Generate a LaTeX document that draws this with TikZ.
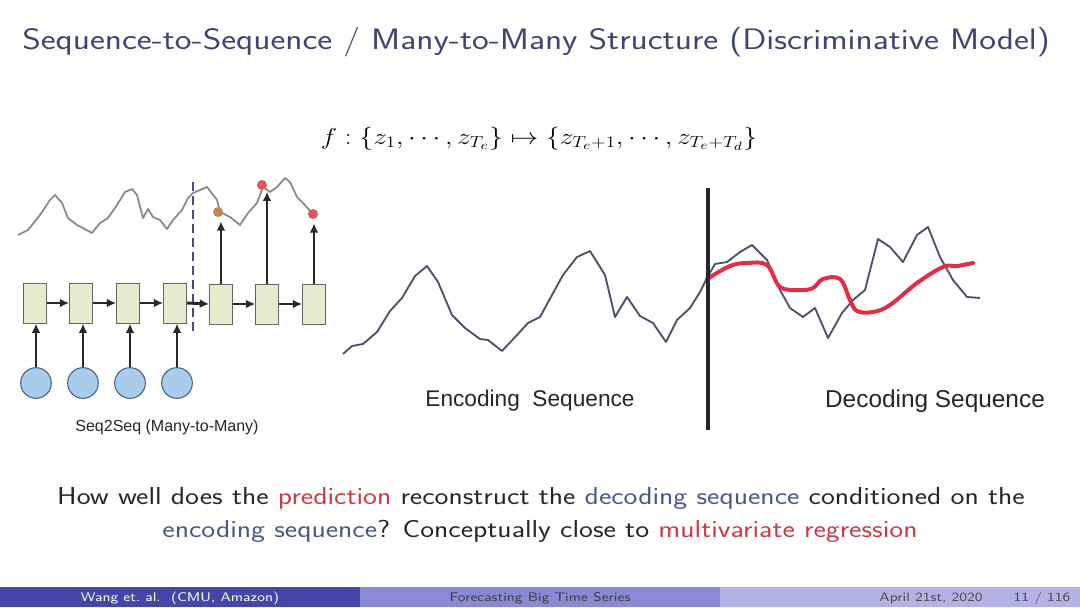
\documentclass[tikz,border=0pt]{standalone}
\usepackage{fontspec}
\usepackage{graphicx}
\newfontfamily\arialf{Liberation Sans}
\usetikzlibrary{arrows.meta}
\newcommand{\xs}[1]{\scalebox{1.2}[1]{#1}}
\definecolor{titlec}{RGB}{62,70,112}
\definecolor{slateb}{RGB}{72,88,135}
\definecolor{redt}{RGB}{200,60,70}
\definecolor{boxfill}{RGB}{230,236,208}
\definecolor{boxdraw}{RGB}{100,100,100}
\definecolor{circfill}{RGB}{168,204,234}
\definecolor{circdraw}{RGB}{60,90,130}
\definecolor{seriesc}{RGB}{75,82,110}
\definecolor{topseries}{RGB}{135,135,140}
\definecolor{predc}{RGB}{225,45,70}
\definecolor{footA}{RGB}{70,70,168}
\definecolor{footB}{RGB}{138,138,212}
\definecolor{footC}{RGB}{178,178,228}
\definecolor{dotorange}{RGB}{196,132,80}
\definecolor{dotred}{RGB}{226,86,86}
\definecolor{arrowc}{RGB}{40,40,40}
\tikzset{
  rnnbox/.style={draw=boxdraw, fill=boxfill, line width=0.75pt, minimum width=17pt, minimum height=30pt, inner sep=0pt},
  inbox/.style={circle, draw=circdraw, fill=circfill, line width=0.75pt, minimum size=23pt, inner sep=0pt},
  outdot/.style={circle, minimum size=7.5pt, inner sep=0pt},
  flow/.style={draw=arrowc, line width=2.2pt, -{Latex[length=7pt,width=6.5pt]}},
  serie/.style={seriesc, line width=1.4pt, line join=round},
  figlabel/.style={inner sep=0pt, font=\arialf\fontsize{17}{20}\selectfont, text=black!85},
  foottext/.style={inner sep=0pt, font=\sffamily\fontsize{9.4}{11}\selectfont},
}
\begin{document}
\begin{tikzpicture}[x=0.75pt,y=-0.75pt]
\useasboundingbox (0,0) rectangle (1080,607);
\fill[white] (0,0) rectangle (1080,607);

% title
\node[anchor=base west, inner sep=0pt, text=titlec] (title) at (22,49)
  {\xs{\fontsize{22.2}{26}\selectfont\sffamily Sequence-to-Sequence / Many-to-Many Structure (Discriminative Model)}};

% formula
\node[anchor=base, inner sep=0pt] (formula) at (539,144)
  {\xs{\fontsize{18.3}{22}\selectfont $f:\{z_1,\cdots,z_{T_e}\}\mapsto\{z_{T_e+1},\cdots,z_{T_e+T_d}\}$}};

% ---------- left figure ----------
\draw[topseries, line width=1.3pt, line join=round] plot coordinates {
 (18,235) (28,230) (40,215) (50,200) (55,195) (62,203) (68,218) (77,225) (83,228) (92,233)
 (100,223) (108,218) (117,205) (125,192) (132,189) (137,195) (143,218) (148,209) (153,217)
 (160,220) (167,229) (173,220) (182,210) (188,198) (193,193) (200,190) (207,187) (217,200)
 (220,212) (230,217) (240,225) (248,213) (257,203) (263,187) (270,192) (277,187) (285,178)
 (290,182) (297,197) (303,203) (312,213)};

\coordinate (dtop) at (193,182);
\coordinate (dbot) at (193,336);
\draw[slateb!90!black, line width=1.8pt, dash pattern=on 7pt off 3.5pt] (dtop) -- (dbot);

\node[rnnbox] (b1) at (35,303) {};
\node[rnnbox] (b2) at (81,303) {};
\node[rnnbox] (b3) at (128,303) {};
\node[rnnbox] (b4) at (175,303) {};
\node[rnnbox] (b5) at (221,304) {};
\node[rnnbox] (b6) at (267,304) {};
\node[rnnbox] (b7) at (314,304) {};

\node[inbox] (c1) at (36,383) {};
\node[inbox] (c2) at (83,383) {};
\node[inbox] (c3) at (130,383) {};
\node[inbox] (c4) at (177,383) {};

\node[outdot, fill=dotorange] (d5) at (218,212) {};
\node[outdot, fill=dotred] (d6) at (262,185) {};
\node[outdot, fill=dotred] (d7) at (313,214) {};

\foreach \i in {1,2,3,4} { \draw[flow] (c\i.north) -- (c\i.north |- b\i.south); }
\foreach \i/\j in {1/2,2/3,3/4,4/5,5/6,6/7} { \draw[flow] (b\i.east) -- (b\j.west); }
\draw[flow, shorten >=3pt] (b5.north) -- (b5.north |- d5.south);
\draw[flow, shorten >=1pt] (b6.north) -- (b6.north |- d6.south);
\draw[flow, shorten >=3pt] (b7.north) -- (b7.north |- d7.south);

\node[inner sep=0pt, font=\arialf\fontsize{12}{14}\selectfont, text=black!85] (s2s) at (167,427) {Seq2Seq (Many-to-Many)};

% ---------- right figure ----------
\draw[serie] plot coordinates {
 (343,354) (352,346) (363,344) (377,332) (390,311) (402,298) (415,276) (427,266) (438,282)
 (452,315) (465,328) (480,339) (488,340) (502,351) (517,335) (528,323) (540,317) (552,295)
 (563,275) (577,257) (590,251) (605,275) (615,317) (627,297) (640,316) (653,323) (666,342)
 (677,320) (690,308) (700,292) (708,276) (715,264) (727,262) (740,252) (752,245) (767,260)
 (780,290) (790,308) (803,317) (815,308) (828,338) (842,313) (853,300) (865,290) (878,239)
 (890,247) (903,262) (917,235) (928,227) (940,257) (953,280) (967,297) (980,298)};

\draw[predc, line width=3pt, line cap=round] plot[smooth, tension=0.6] coordinates {
 (707,279) (730,266) (747,263) (767,265) (780,287) (800,290) (813,288) (823,279) (840,279)
 (850,300) (857,311) (873,312) (890,305) (917,283) (943,267) (957,266) (973,263)};

\coordinate (vtop) at (708,188);
\coordinate (vbot) at (708,430);
\draw[black!85, line width=3pt] (vtop) -- (vbot);

\node[figlabel] (enc) at (530,401) {Encoding\ \ Sequence};
\node[figlabel, font=\arialf\fontsize{18.3}{20}\selectfont] (dec) at (935,401) {Decoding Sequence};

% ---------- body text ----------
\node[anchor=base, inner sep=0pt, text=black!85] (line1) at (541,504)
  {\xs{\fontsize{18.45}{22}\selectfont\sffamily How well does the \textcolor{redt}{prediction} reconstruct the \textcolor{slateb}{decoding sequence} conditioned on the}};
\node[anchor=base, inner sep=0pt, text=black!85] (line2) at (540,537)
  {\xs{\fontsize{18.45}{22}\selectfont\sffamily \textcolor{slateb}{encoding sequence}? Conceptually close to \textcolor{redt}{multivariate regression}}};

% ---------- footer ----------
\fill[footA] (0,587) rectangle (360,607);
\fill[footB] (360,587) rectangle (720,607);
\fill[footC] (720,587) rectangle (1080,607);
\node[foottext, anchor=base, text=white] (fa) at (180,601) {\xs{Wang et.\ al.\ \ (CMU, Amazon)}};
\node[foottext, anchor=base, text=black!75] (fb) at (540,601) {\xs{Forecasting Big Time Series}};
\node[foottext, anchor=base, text=black!70] (fc) at (931,601) {\xs{April 21st, 2020}};
\node[foottext, anchor=base, text=black!70] (fd) at (1042,601) {\xs{11 / 116}};
\end{tikzpicture}
\end{document}
